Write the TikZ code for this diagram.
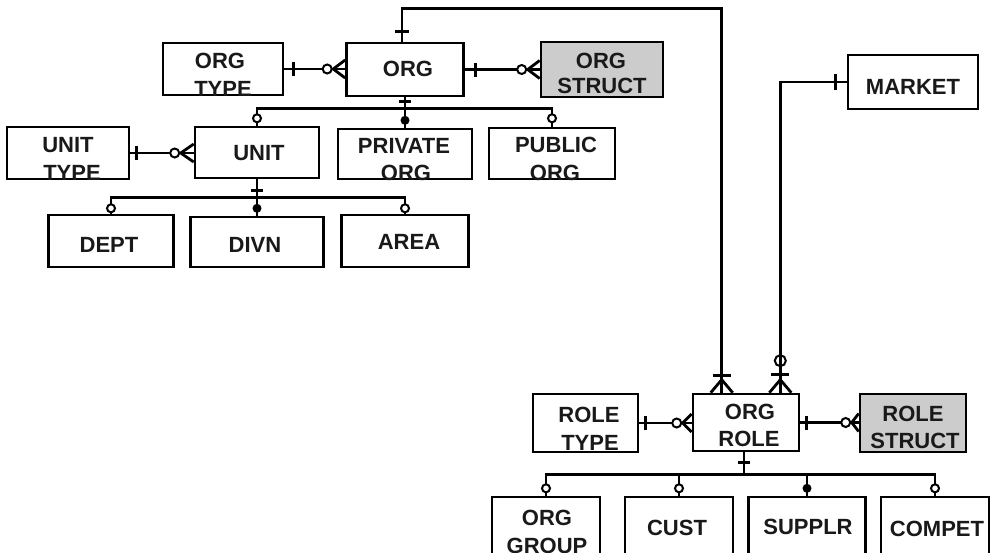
\documentclass[tikz,border=0pt]{standalone}
\usepackage{fontspec}
\setmainfont{Liberation Sans}
\usetikzlibrary{calc}
\definecolor{structgray}{RGB}{204,204,204}

% one-to-many link between two entities side by side:
% #1 the "one" entity (left), #2 the "many" entity (right),
% #3 offset of the bar from #1, #4 offset of the ring from #2
\newcommand\erlink[4]{%
  \draw[conn] (#1.east) -- (#1.east -| #2.west);
  \draw[conn] ($(#1.east)+(#3,-7)$) -- ($(#1.east)+(#3,7)$);
  \draw[conn] ($(#1.east -| #2.west)+(#4+6,0)$) -- ($(#1.east -| #2.west)+(0,-9)$);
  \draw[conn] ($(#1.east -| #2.west)+(#4+6,0)$) -- ($(#1.east -| #2.west)+(0,9)$);
  \draw[ring] ($(#1.east -| #2.west)+(#4,0)$) circle (4.5pt);
}

\begin{document}
\begin{tikzpicture}[x=1pt,y=-1pt,
  ent/.style={draw=black, line width=2.6pt, inner sep=0pt, fill=white},
  shaded/.style={ent, fill=structgray},
  lbl/.style={font=\bfseries\fontsize{22}{26}\selectfont, inner sep=0pt, anchor=base, text=black!90},
  conn/.style={line width=2.8pt, line cap=butt, line join=miter},
  onebar/.style={line width=2.6pt},
  ring/.style={line width=2pt, fill=white},
  hollow/.style={line width=2pt},
  dot/.style={fill=black}]
\useasboundingbox (0,0) rectangle (992,552);
\clip (0,0) rectangle (992,552);

% ---------- entities ----------
\node[ent, minimum width=120pt, minimum height=52pt] (orgtype) at (223,69) {};
\node[ent, minimum width=117pt, minimum height=53pt] (org) at (405,69.5) {};
\node[shaded, minimum width=122pt, minimum height=55pt] (orgstruct) at (602,69.5) {};
\node[ent, minimum width=122pt, minimum height=52pt] (unittype) at (68,153) {};
\node[ent, minimum width=124pt, minimum height=51pt] (unit) at (257,152.5) {};
\node[ent, minimum width=134pt, minimum height=50pt] (privateorg) at (405,154) {};
\node[ent, minimum width=126pt, minimum height=51pt] (publicorg) at (552,153.5) {};
\node[ent, minimum width=125pt, minimum height=52pt] (dept) at (111,241) {};
\node[ent, minimum width=133pt, minimum height=50pt] (divn) at (257,242) {};
\node[ent, minimum width=127pt, minimum height=52pt] (area) at (405,241) {};
\node[ent, minimum width=130pt, minimum height=54pt] (market) at (913,82) {};
\node[ent, minimum width=105pt, minimum height=58pt] (roletype) at (585.5,423) {};
\node[ent, minimum width=106pt, minimum height=57pt] (orgrole) at (746,422.5) {};
\node[shaded, minimum width=106pt, minimum height=58pt] (rolestruct) at (913,423) {};
\node[ent, minimum width=108pt, minimum height=70pt] (orggroup) at (546,532) {};
\node[ent, minimum width=108pt, minimum height=70pt] (cust) at (679,532) {};
\node[ent, minimum width=117pt, minimum height=70pt] (supplr) at (807,532) {};
\node[ent, minimum width=108pt, minimum height=70pt] (compet) at (935,532) {};

% ---------- type and structure links ----------
\erlink{orgtype}{org}{9}{-18}
\erlink{org}{orgstruct}{11}{-18}
\erlink{unittype}{unit}{6}{-19}
\erlink{roletype}{orgrole}{6}{-15}
\erlink{orgrole}{rolestruct}{6}{-13}

% ---------- ORG plays many ORG ROLEs ----------
\draw[conn] ($(org.north)+(-3,0)$) -- ($(org.north)+(-3,-33)$) -| ($(orgrole.north west)+(30,0)$);
\draw[onebar] ($(org.north)+(-10,-10)$) -- ($(org.north)+(4,-10)$);
\draw[onebar] ($(orgrole.north west)+(21,-17)$) -- ($(orgrole.north west)+(39,-17)$);
\draw[conn] ($(orgrole.north west)+(30,-13)$) -- ($(orgrole.north west)+(19,0)$);
\draw[conn] ($(orgrole.north west)+(30,-13)$) -- ($(orgrole.north west)+(41,0)$);

% ---------- MARKET has many ORG ROLEs (optional) ----------
\draw[conn] (market.west) -| ($(orgrole.north east)+(-20,0)$);
\draw[onebar] ($(market.west)+(-11,-8)$) -- ($(market.west)+(-11,8)$);
\draw[hollow] ($(orgrole.north east)+(-20,-32)$) circle (5.5pt);
\draw[onebar] ($(orgrole.north east)+(-29,-18)$) -- ($(orgrole.north east)+(-11,-18)$);
\draw[conn] ($(orgrole.north east)+(-20,-13)$) -- ($(orgrole.north east)+(-31,0)$);
\draw[conn] ($(orgrole.north east)+(-20,-13)$) -- ($(orgrole.north east)+(-9,0)$);

% ---------- ORG subtypes ----------
\coordinate (orgbus) at ($(org.south)+(0,11)$);
\draw[conn] (unit.north) |- (orgbus) -| (publicorg.north);
\draw[conn] (org.south) -- (privateorg.north);
\draw[onebar] ($(org.south)+(-6,4)$) -- ($(org.south)+(6,4)$);
\draw[ring] ($(orgbus -| unit.north)+(0,10)$) circle (4pt);
\fill[dot] ($(orgbus -| privateorg.north)+(0,12)$) circle (4.5pt);
\draw[ring] ($(orgbus -| publicorg.north)+(0,10)$) circle (4pt);

% ---------- UNIT subtypes ----------
\coordinate (unitbus) at ($(unit.south)+(0,18)$);
\draw[conn] (dept.north) |- (unitbus) -| (area.north);
\draw[conn] (unit.south) -- (divn.north);
\draw[onebar] ($(unit.south)+(-6,11)$) -- ($(unit.south)+(6,11)$);
\draw[ring] ($(unitbus -| dept.north)+(0,11)$) circle (4pt);
\fill[dot] ($(unitbus -| divn.north)+(0,11)$) circle (4.5pt);
\draw[ring] ($(unitbus -| area.north)+(0,11)$) circle (4pt);

% ---------- ORG ROLE subtypes ----------
\coordinate (rolebus) at ($(orgrole.south)+(-2,22)$);
\draw[conn] (orggroup.north) |- (rolebus) -| (compet.north);
\draw[conn] ($(orgrole.south)+(-2,0)$) -- (rolebus);
\draw[conn] (rolebus -| cust.north) -- (cust.north);
\draw[conn] (rolebus -| supplr.north) -- (supplr.north);
\draw[onebar] ($(orgrole.south)+(-8,10)$) -- ($(orgrole.south)+(4,10)$);
\draw[ring] ($(rolebus -| orggroup.north)+(0,14)$) circle (4pt);
\draw[ring] ($(rolebus -| cust.north)+(0,14)$) circle (4pt);
\fill[dot] ($(rolebus -| supplr.north)+(0,14)$) circle (4.5pt);
\draw[ring] ($(rolebus -| compet.north)+(0,14)$) circle (4pt);

% ---------- labels ----------
\node[lbl] (orgtype-a) at (220,68) {ORG};
\node[lbl] (orgtype-b) at (223,96) {TYPE};
\node[lbl] (org-a) at (408,76) {ORG};
\node[lbl] (orgstruct-a) at (601,68) {ORG};
\node[lbl] (orgstruct-b) at (602,93) {STRUCT};
\node[lbl] (unittype-a) at (68,152) {UNIT};
\node[lbl] (unittype-b) at (72,180) {TYPE};
\node[lbl] (unit-a) at (259,160) {UNIT};
\node[lbl] (privateorg-a) at (404,153) {PRIVATE};
\node[lbl] (privateorg-b) at (406,180) {ORG};
\node[lbl] (publicorg-a) at (556,152) {PUBLIC};
\node[lbl] (publicorg-b) at (555,180) {ORG};
\node[lbl] (dept-a) at (109,252) {DEPT};
\node[lbl] (divn-a) at (255,252) {DIVN};
\node[lbl] (area-a) at (409,249) {AREA};
\node[lbl] (market-a) at (913,94) {MARKET};
\node[lbl] (roletype-a) at (589,422) {ROLE};
\node[lbl] (roletype-b) at (590,450) {TYPE};
\node[lbl] (orgrole-a) at (750,419) {ORG};
\node[lbl] (orgrole-b) at (749,446) {ROLE};
\node[lbl] (rolestruct-a) at (913,421) {ROLE};
\node[lbl] (rolestruct-b) at (915,448) {STRUCT};
\node[lbl] (orggroup-a) at (547,525) {ORG};
\node[lbl] (orggroup-b) at (547,553) {GROUP};
\node[lbl] (cust-a) at (677,535) {CUST};
\node[lbl] (supplr-a) at (808,534) {SUPPLR};
\node[lbl] (compet-a) at (937,536) {COMPET};
\end{tikzpicture}
\end{document}
